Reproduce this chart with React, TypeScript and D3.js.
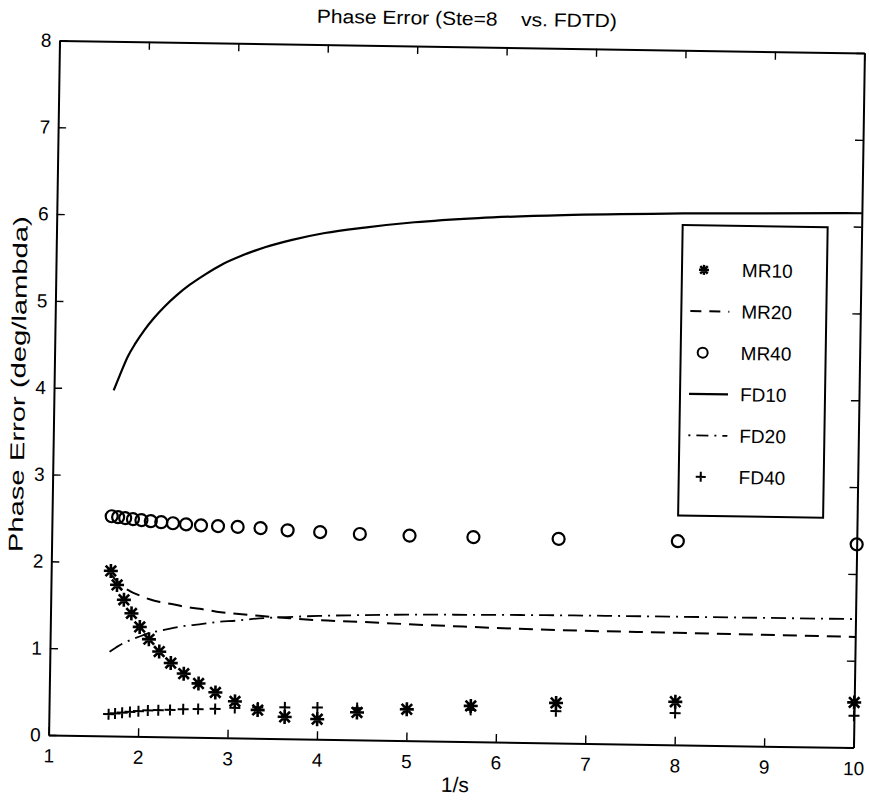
import React, { useEffect, useRef } from 'react';
import * as d3 from 'd3';

// 1/s sample points (s = 0.6 ... 0.1)
const invS = [1.667, 1.739, 1.818, 1.905, 2, 2.105, 2.222, 2.353, 2.5, 2.667, 2.857, 3.077, 3.333, 3.636, 4, 4.444, 5, 5.714, 6.667, 8, 10];

// series values (deg/lambda)
const mr10 = [1.9, 1.74, 1.57, 1.415, 1.26, 1.12, 0.98, 0.85, 0.73, 0.62, 0.52, 0.42, 0.325, 0.25, 0.23, 0.315, 0.36, 0.41, 0.46, 0.495, 0.52];
const mr20 = [1.86, 1.78, 1.71, 1.66, 1.62, 1.58, 1.55, 1.53, 1.5, 1.48, 1.45, 1.43, 1.41, 1.39, 1.37, 1.36, 1.34, 1.32, 1.3, 1.29, 1.275];
const mr40 = [2.53, 2.52, 2.51, 2.5, 2.49, 2.48, 2.47, 2.46, 2.45, 2.44, 2.435, 2.43, 2.42, 2.4, 2.385, 2.37, 2.36, 2.355, 2.35, 2.345, 2.34];
const fd10 = [3.98, 4.17, 4.37, 4.53, 4.68, 4.82, 4.955, 5.085, 5.21, 5.33, 5.45, 5.555, 5.655, 5.745, 5.83, 5.9, 5.97, 6.03, 6.08, 6.12, 6.155];
const fd20 = [0.97, 1.02, 1.07, 1.11, 1.15, 1.19, 1.22, 1.25, 1.28, 1.3, 1.33, 1.35, 1.38, 1.4, 1.42, 1.435, 1.45, 1.46, 1.47, 1.475, 1.48];
const fd40 = [0.25, 0.26, 0.27, 0.28, 0.29, 0.3, 0.305, 0.31, 0.32, 0.325, 0.33, 0.345, 0.355, 0.36, 0.365, 0.365, 0.365, 0.365, 0.365, 0.365, 0.367];

const xTicks = [1, 2, 3, 4, 5, 6, 7, 8, 9, 10];
const yTicks = [0, 1, 2, 3, 4, 5, 6, 7, 8];
const legendNames = ['MR10', 'MR20', 'MR40', 'FD10', 'FD20', 'FD40'];

const W = 869, H = 803;
const box = { left: 54, right: 859, top: 46.7, bottom: 741.3 };
const tilt = 0.9; // the scan is slightly rotated
const font = '"Liberation Sans", Arial, Helvetica, sans-serif';

const x = d3.scaleLinear().domain([1, 10]).range([box.left, box.right]);
const y = d3.scaleLinear().domain([0, 8]).range([box.bottom, box.top]);

const star = (cx, cy, r) =>
	`M${cx - r},${cy}L${cx + r},${cy}M${cx},${cy - r}L${cx},${cy + r}` +
	`M${cx - r * 0.75},${cy - r * 0.75}L${cx + r * 0.75},${cy + r * 0.75}` +
	`M${cx - r * 0.75},${cy + r * 0.75}L${cx + r * 0.75},${cy - r * 0.75}`;
const plus = (cx, cy, r) => `M${cx - r},${cy}L${cx + r},${cy}M${cx},${cy - r}L${cx},${cy + r}`;

const lineOf = (vals, curve = d3.curveLinear) =>
	d3.line().curve(curve).x((d, i) => x(invS[i])).y(d => y(d))(vals);

export default function App() {
	const bottomRef = useRef(null);
	const leftRef = useRef(null);
	const topRef = useRef(null);
	const rightRef = useRef(null);

	useEffect(() => {
		d3.select(bottomRef.current)
			.call(d3.axisBottom(x).tickValues(xTicks).tickSizeInner(-8).tickSizeOuter(0).tickPadding(14));
		d3.select(leftRef.current)
			.call(d3.axisLeft(y).tickValues(yTicks).tickSizeInner(-8).tickSizeOuter(0).tickPadding(8));
		d3.select(topRef.current)
			.call(d3.axisTop(x).tickValues(xTicks).tickSizeInner(-8).tickSizeOuter(0).tickFormat(() => ''));
		d3.select(rightRef.current)
			.call(d3.axisRight(y).tickValues(yTicks).tickSizeInner(-8).tickSizeOuter(0).tickFormat(() => ''));

		const axes = d3.selectAll([bottomRef.current, leftRef.current, topRef.current, rightRef.current]);
		axes.attr('font-family', font).attr('font-size', 19);
		axes.selectAll('.domain').attr('stroke', '#000').attr('stroke-width', 2);
		axes.selectAll('.tick line').attr('stroke', '#000').attr('stroke-width', 1.4);
		axes.selectAll('.tick text').attr('fill', '#000');
	}, []);

	const rowY = i => 266 + i * 41.4;

	return (
		<svg width={W} height={H} style={{ position: 'absolute', left: 0, top: 0, background: '#fff' }}>
			<g transform={`rotate(${tilt},456.5,394)`}>
				<text x={461} y={25} textAnchor="middle" fontFamily={font} fontSize={19}
					textLength={300} lengthAdjust="spacingAndGlyphs">
					{'Phase Error (Ste=8\u00a0\u00a0\u00a0\u00a0vs. FDTD)'}
				</text>

				<g ref={bottomRef} transform={`translate(0,${box.bottom})`} />
				<g ref={leftRef} transform={`translate(${box.left},0)`} />
				<g ref={topRef} transform={`translate(0,${box.top})`} />
				<g ref={rightRef} transform={`translate(${box.right},0)`} />

				<text x={461} y={792} textAnchor="middle" fontFamily={font} fontSize={21}>1/s</text>
				<text transform="translate(25,391) rotate(-90)" textAnchor="middle" fontFamily={font} fontSize={20}
					textLength={336} lengthAdjust="spacingAndGlyphs">
					Phase Error (deg/lambda)
				</text>

				{/* lines */}
				<path d={lineOf(fd10, d3.curveMonotoneX)} fill="none" stroke="#000" strokeWidth={2.2} />
				<path d={lineOf(mr20, d3.curveMonotoneX)} fill="none" stroke="#000" strokeWidth={2} strokeDasharray="14,8" />
				<path d={lineOf(fd20, d3.curveMonotoneX)} fill="none" stroke="#000" strokeWidth={1.8} strokeDasharray="15,6,2,6" />

				{/* markers */}
				{mr40.map((v, i) => (
					<circle key={'c' + i} cx={x(invS[i])} cy={y(v)} r={6} fill="none" stroke="#000" strokeWidth={2.2} />
				))}
				{fd40.map((v, i) => (
					<path key={'p' + i} d={plus(x(invS[i]), y(v), 5.5)} stroke="#000" strokeWidth={2} />
				))}
				{mr10.map((v, i) => (
					<path key={'s' + i} d={star(x(invS[i]), y(v), 7)} stroke="#000" strokeWidth={2.6} />
				))}

				{/* legend */}
				<rect x={680} y={221.5} width={145} height={290.5} fill="#fff" stroke="#000" strokeWidth={2} />
				{legendNames.map((name, i) => {
					const cy = rowY(i);
					let sample = null;
					if (name === 'MR10') sample = <path d={star(702, cy, 5)} stroke="#000" strokeWidth={2.4} />;
					if (name === 'MR20') sample = <line x1={689} x2={728} y1={cy} y2={cy} stroke="#000" strokeWidth={2} strokeDasharray="11,8" />;
					if (name === 'MR40') sample = <circle cx={702} cy={cy} r={5} fill="none" stroke="#000" strokeWidth={2} />;
					if (name === 'FD10') sample = <line x1={689} x2={728} y1={cy} y2={cy} stroke="#000" strokeWidth={2.2} />;
					if (name === 'FD20') sample = <line x1={689} x2={728} y1={cy} y2={cy} stroke="#000" strokeWidth={1.8} strokeDasharray="2,6,12,6" />;
					if (name === 'FD40') sample = <path d={plus(702, cy, 5)} stroke="#000" strokeWidth={2} />;
					return (
						<g key={name}>
							{sample}
							<text x={740} y={cy} dy="0.35em" fontFamily={font} fontSize={19}>{name}</text>
						</g>
					);
				})}
			</g>
		</svg>
	);
}
